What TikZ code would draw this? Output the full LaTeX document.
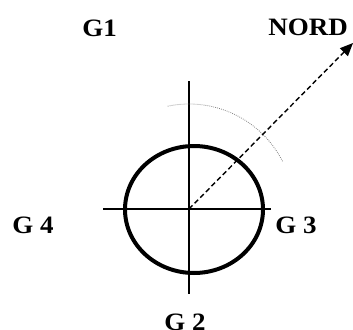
\documentclass[tikz,border=0pt]{standalone}
\usepackage{fontspec}
\setmainfont{Liberation Serif}
\usetikzlibrary{arrows.meta}
\tikzset{
  lbl/.style={inner sep=0pt, anchor=base, font=\fontsize{25}{25}\selectfont\bfseries},
  axis/.style={line width=1.5pt, black},
  ring/.style={line width=4pt, black},
  north/.style={line width=1.4pt, dash pattern=on 5pt off 3pt, -{Triangle[length=13pt,width=11pt]}},
  arcd/.style={gray, line width=0.8pt, dash pattern=on 0.8pt off 1.2pt}
}
\begin{document}
\begin{tikzpicture}[x=1pt,y=-1pt]
\useasboundingbox (0,0) rectangle (353,329);
\coordinate (c) at (189,209);
\coordinate (l) at (103,209);
\coordinate (r) at (271,209);
\coordinate (t) at (189,81);
\coordinate (b) at (189,294);
\coordinate (n) at (353,43);
\draw[ring] (194,209.5) ellipse [x radius=69, y radius=63.5];
\draw[axis] (l) -- (r);
\draw[axis] (t) -- (b);
\draw[arcd] (c) ++(-101.7:105) arc[start angle=-101.7, end angle=-27, radius=105];
\draw[north] (c) -- (n);
\node[lbl] (g1) at (99.7,36.7) {\scalebox{1.08}[1]{G1}};
\node[lbl] (nord) at (308,36) {\scalebox{1.08}[1]{NORD}};
\node[lbl] (g4) at (33,233) {\scalebox{1.08}[1]{G 4}};
\node[lbl] (g3) at (296,233) {\scalebox{1.08}[1]{G 3}};
\node[lbl] (g2) at (185,330) {\scalebox{1.08}[1]{G 2}};
\end{tikzpicture}
\end{document}
